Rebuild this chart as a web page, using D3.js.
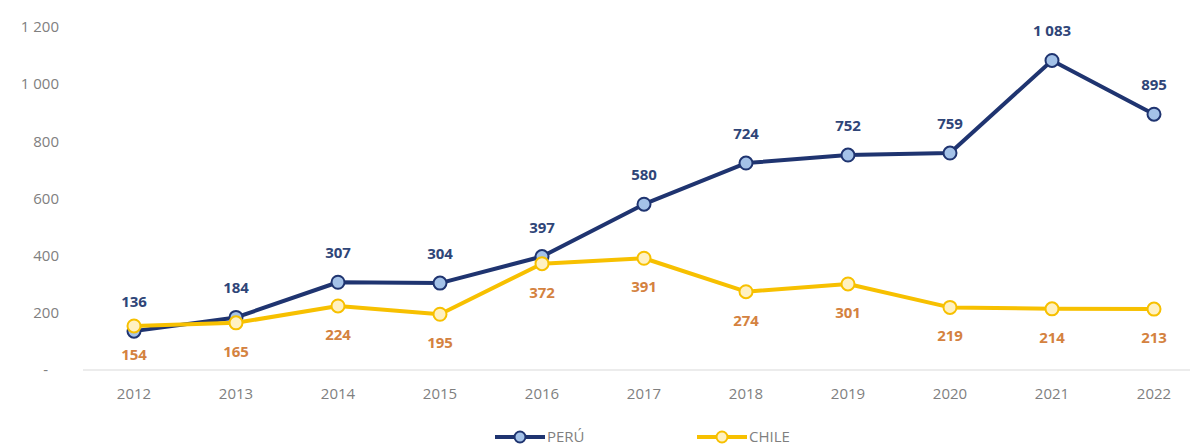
<!DOCTYPE html>
<html>
<head>
<meta charset="utf-8">
<script src="https://cdn.jsdelivr.net/npm/d3@7"></script>
<style>
  body { margin: 0; background: #fff; }
  text { font-family: "Open Sans", "Liberation Sans", sans-serif; }
</style>
</head>
<body>
<div id="chart"></div>
<script>
// data
const years = [2012, 2013, 2014, 2015, 2016, 2017, 2018, 2019, 2020, 2021, 2022];
const peru = [136, 184, 307, 304, 397, 580, 724, 752, 759, 1083, 895];
const chile = [154, 165, 224, 195, 372, 391, 274, 301, 219, 214, 213];
const yTicks = [0, 200, 400, 600, 800, 1000, 1200];

const width = 1192, height = 448;
const margin = { top: 27, right: 38, bottom: 78, left: 83 };

const svg = d3.select("#chart")
    .append("svg")
    .attr("width", width)
    .attr("height", height);

const x = d3.scalePoint()
    .domain(years)
    .range([134, 1154]);

const y = d3.scaleLinear()
    .domain([0, 1200])
    .range([height - margin.bottom, margin.top]);

const fmt = v => d3.format(",")(v).replace(",", " ");

// y axis labels (no line)
svg.append("g")
    .selectAll("text")
    .data(yTicks)
    .enter().append("text")
    .attr("x", d => d === 0 ? 48 : 59)
    .attr("y", d => y(d))
    .attr("dy", "0.35em")
    .attr("text-anchor", "end")
    .style("font-size", "15px")
    .style("fill", "#808080")
    .text(d => d === 0 ? "-" : fmt(d));

// x axis baseline
svg.append("line")
    .attr("x1", margin.left)
    .attr("x2", width - 2)
    .attr("y1", y(0))
    .attr("y2", y(0))
    .attr("stroke", "#d9d9d9")
    .attr("stroke-width", 1);

svg.append("g")
    .selectAll("text")
    .data(years)
    .enter().append("text")
    .attr("x", d => x(d))
    .attr("y", y(0) + 29)
    .attr("text-anchor", "middle")
    .style("font-size", "15px")
    .style("fill", "#7f7f7f")
    .text(d => d);

const series = [
    { name: "PERÚ", values: peru, line: "#1f3470", fill: "#a4c2e8", label: "#2f4578", dy: -24 },
    { name: "CHILE", values: chile, line: "#f7c000", fill: "#fff1c2", label: "#d4823f", dy: 34 }
];

const line = d3.line()
    .x((d, i) => x(years[i]))
    .y(d => y(d));

series.forEach(s => {
    svg.append("path")
        .datum(s.values)
        .attr("fill", "none")
        .attr("stroke", s.line)
        .attr("stroke-width", 4)
        .attr("stroke-linejoin", "round")
        .attr("d", line);

    svg.append("g")
        .selectAll("circle")
        .data(s.values)
        .enter().append("circle")
        .attr("cx", (d, i) => x(years[i]))
        .attr("cy", d => y(d))
        .attr("r", 6.5)
        .attr("fill", s.fill)
        .attr("stroke", s.line)
        .attr("stroke-width", 2);
});

// value labels
series.forEach(s => {
    svg.append("g")
        .selectAll("text")
        .data(s.values)
        .enter().append("text")
        .attr("x", (d, i) => x(years[i]))
        .attr("y", d => y(d) + s.dy)
        .attr("text-anchor", "middle")
        .style("font-size", "15px")
        .style("font-weight", "bold")
        .style("fill", s.label)
        .text(d => fmt(d));
});

// legend
const legend = svg.append("g");
const legendX = [495, 697];
series.forEach((s, i) => {
    const lx = legendX[i], ly = 437;
    legend.append("line")
        .attr("x1", lx).attr("x2", lx + 50)
        .attr("y1", ly).attr("y2", ly)
        .attr("stroke", s.line)
        .attr("stroke-width", 4);
    legend.append("circle")
        .attr("cx", lx + 25).attr("cy", ly)
        .attr("r", 5.5)
        .attr("fill", s.fill)
        .attr("stroke", s.line)
        .attr("stroke-width", 2);
    legend.append("text")
        .attr("x", lx + 52)
        .attr("y", ly)
        .attr("dy", "0.35em")
        .style("font-size", "15px")
        .style("fill", "#7f7f7f")
        .text(s.name);
});
</script>
</body>
</html>
